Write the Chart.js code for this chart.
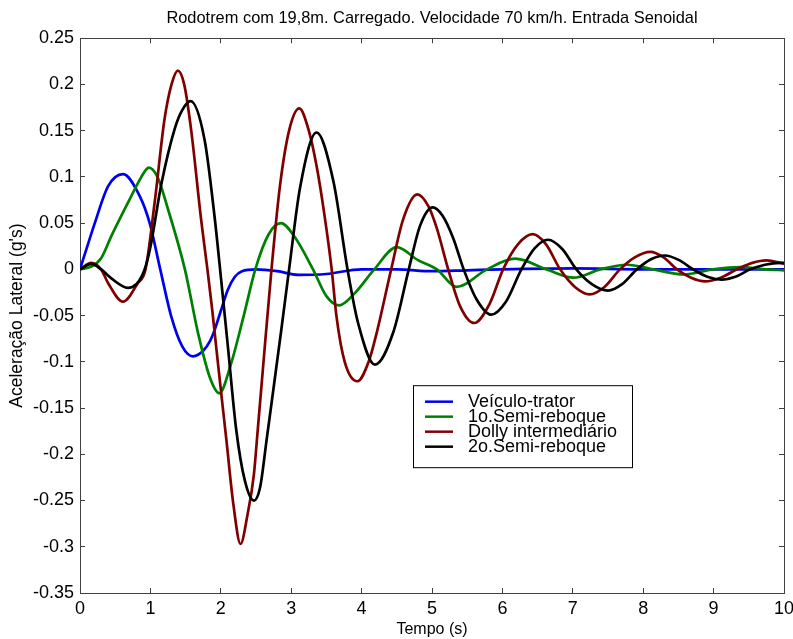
<!DOCTYPE html>
<html>
<head>
<meta charset="utf-8">
<script src="https://cdn.jsdelivr.net/npm/chart.js@4.4.1/dist/chart.umd.min.js"></script>
<style>
  body { margin: 0; background: #fff; }
  canvas { display: block; }
</style>
</head>
<body>
<canvas id="chart" width="793" height="639"></canvas>
<script>
// Tempo (s) / aceleração (g's)
const tratorT = [0, 0.1, 0.21, 0.40, 0.61, 0.85, 0.99, 1.14, 1.30, 1.45, 1.605, 1.75, 1.85, 1.91, 2.00, 2.10, 2.20, 2.30, 2.5, 2.8, 3.1, 3.5, 4.0, 4.5, 5.0, 5.5, 6.0, 7.0, 8.0, 9.0, 10.0];
const tratorA = [0, 0.024, 0.050, 0.090, 0.103, 0.079, 0.050, 0.000, -0.052, -0.083, -0.094, -0.088, -0.077, -0.066, -0.045, -0.022, -0.008, -0.002, 0.000, -0.002, -0.006, -0.005, 0.000, 0.000, -0.002, -0.001, 0.000, 0.001, 0.000, 0.000, 0.000];

const semi1T = [0, 0.16, 0.30, 0.445, 0.68, 0.85, 0.92, 0.976, 1.10, 1.25, 1.49, 1.68, 1.85, 1.98, 2.13, 2.32, 2.49, 2.68, 2.855, 3.05, 3.31, 3.50, 3.68, 3.90, 4.18, 4.50, 4.80, 5.07, 5.35, 5.78, 6.18, 6.63, 7.01, 7.39, 7.77, 8.14, 8.57, 8.99, 9.38, 9.75, 10];
const semi1A = [0, 0.003, 0.012, 0.036, 0.072, 0.097, 0.106, 0.110, 0.100, 0.065, 0, -0.070, -0.118, -0.134, -0.106, -0.052, 0, 0.038, 0.050, 0.035, 0, -0.029, -0.039, -0.026, 0, 0.024, 0.010, 0, -0.019, 0, 0.0115, 0, -0.009, 0, 0.005, 0, -0.0055, 0, 0.0025, 0, -0.001];

const dollyT = [0, 0.16, 0.30, 0.40, 0.61, 0.82, 0.93, 1.06, 1.20, 1.30, 1.39, 1.48, 1.58, 1.72, 1.81, 1.88, 1.95, 2.08, 2.18, 2.28, 2.38, 2.47, 2.52, 2.60, 2.72, 2.84, 2.97, 3.115, 3.25, 3.36, 3.47, 3.575, 3.645, 3.76, 3.94, 4.10, 4.21, 4.42, 4.59, 4.79, 4.95, 5.07, 5.23, 5.40, 5.60, 5.82, 6.01, 6.22, 6.43, 6.62, 6.82, 7.03, 7.24, 7.45, 7.67, 7.88, 8.10, 8.29, 8.48, 8.68, 8.88, 9.10, 9.33, 9.55, 9.75, 10];
const dollyA = [0, 0.007, 0, -0.015, -0.035, -0.015, 0, 0.072, 0.162, 0.200, 0.215, 0.200, 0.150, 0.054, 0, -0.045, -0.095, -0.185, -0.255, -0.297, -0.265, -0.222, -0.178, -0.106, 0, 0.090, 0.150, 0.174, 0.150, 0.112, 0.060, 0, -0.052, -0.100, -0.121, -0.100, -0.070, 0, 0.054, 0.081, 0.068, 0.044, 0, -0.040, -0.058, -0.037, 0, 0.027, 0.038, 0.027, 0, -0.019, -0.027, -0.019, 0, 0.013, 0.019, 0.013, 0, -0.009, -0.013, -0.009, 0, 0.007, 0.0097, 0.006];

const semi2T = [0, 0.16, 0.30, 0.45, 0.68, 0.80, 0.88, 0.94, 1.01, 1.155, 1.345, 1.45, 1.57, 1.77, 1.91, 1.99, 2.10, 2.22, 2.34, 2.47, 2.56, 2.65, 2.75, 2.86, 2.97, 3.125, 3.36, 3.60, 3.80, 3.95, 4.19, 4.45, 4.67, 4.83, 5.01, 5.15, 5.30, 5.45, 5.63, 5.84, 6.05, 6.27, 6.46, 6.65, 6.85, 7.05, 7.27, 7.50, 7.70, 7.91, 8.11, 8.31, 8.51, 8.71, 8.91, 9.11, 9.31, 9.52, 9.73, 9.95, 10];
const semi2A = [0, 0.006, 0, -0.010, -0.020, -0.016, -0.007, 0.005, 0.028, 0.092, 0.152, 0.172, 0.182, 0.140, 0.058, 0, -0.083, -0.174, -0.228, -0.250, -0.235, -0.185, -0.128, -0.065, 0, 0.088, 0.148, 0.095, 0, -0.058, -0.103, -0.068, 0, 0.047, 0.067, 0.058, 0.034, 0, -0.032, -0.049, -0.035, 0, 0.023, 0.032, 0.022, 0, -0.016, -0.023, -0.016, 0, 0.011, 0.015, 0.010, 0, -0.008, -0.011, -0.008, 0, 0.005, 0.007, 0.007];

const seriesNames = ["Veículo-trator", "1o.Semi-reboque", "Dolly intermediário", "2o.Semi-reboque"];
const seriesColors = ["#0000f0", "#008000", "#800000", "#000000"];

const xTicks = [0, 1, 2, 3, 4, 5, 6, 7, 8, 9, 10];
const yTicks = [0.25, 0.2, 0.15, 0.1, 0.05, 0, -0.05, -0.1, -0.15, -0.2, -0.25, -0.3, -0.35];
const yTickLabels = ["0.25", "0.2", "0.15", "0.1", "0.05", "0", "-0.05", "-0.1", "-0.15", "-0.2", "-0.25", "-0.3", "-0.35"];

const FONT = "'Liberation Sans', Arial, Helvetica, sans-serif";
const AXIS_COLOR = "#404040";

function pairs(ts, vs) {
  return ts.map((t, i) => ({ x: t, y: vs[i] }));
}

const allSeries = [
  pairs(tratorT, tratorA),
  pairs(semi1T, semi1A),
  pairs(dollyT, dollyA),
  pairs(semi2T, semi2A),
];

// legenda desenhada dentro da área do gráfico (estilo MATLAB)
const insideLegend = {
  id: "insideLegend",
  afterDraw(chart) {
    const { ctx, chartArea } = chart;
    const bx = chartArea.left + 333;
    const by = chartArea.top + 347;
    const bw = 219;
    const bh = 82;
    ctx.save();
    ctx.fillStyle = "#fff";
    ctx.fillRect(bx, by, bw, bh);
    ctx.strokeStyle = "#000";
    ctx.lineWidth = 1;
    ctx.strokeRect(bx + 0.5, by + 0.5, bw, bh);
    ctx.font = "18px " + FONT;
    ctx.textBaseline = "middle";
    seriesNames.forEach((name, i) => {
      const y = by + 16.5 + i * 15;
      ctx.strokeStyle = seriesColors[i];
      ctx.lineWidth = 2.5;
      ctx.beginPath();
      ctx.moveTo(bx + 12, y);
      ctx.lineTo(bx + 40, y);
      ctx.stroke();
      ctx.fillStyle = "#000";
      ctx.fillText(name, bx + 55, y);
    });
    ctx.restore();
  },
};

const setXTicks = (axis) => { axis.ticks = xTicks.map((v) => ({ value: v })); };
const setYTicks = (axis) => { axis.ticks = yTicks.map((v) => ({ value: v })); };

const ctx = document.getElementById("chart");
new Chart(ctx, {
  type: "line",
  data: {
    datasets: allSeries.map((pts, i) => ({
      label: seriesNames[i],
      data: pts,
      borderColor: seriesColors[i],
      backgroundColor: seriesColors[i],
      borderWidth: 2.7,
      pointRadius: 0,
      cubicInterpolationMode: "monotone",
      fill: false,
      order: 3 - i,
    })),
  },
  options: {
    responsive: false,
    animation: false,
    devicePixelRatio: 1,
    layout: { autoPadding: false, padding: { left: 0, right: 9, top: 0, bottom: 0 } },
    plugins: {
      legend: { display: false },
      tooltip: { enabled: false },
      title: {
        display: true,
        text: "Rodotrem com 19,8m. Carregado. Velocidade 70 km/h. Entrada Senoidal",
        color: "#000",
        fullSize: false,
        font: { family: FONT, size: 16.4, weight: "normal" },
        padding: { top: 9, bottom: 9.5 },
      },
    },
    scales: {
      x: {
        type: "linear",
        position: "bottom",
        min: 0,
        max: 10,
        afterBuildTicks: setXTicks,
        afterFit: (s) => { s.height = 46; s.paddingLeft = 0; s.paddingRight = 0; },
        grid: { drawOnChartArea: false, tickLength: -5, color: AXIS_COLOR },
        border: { color: AXIS_COLOR },
        ticks: { color: "#000", padding: 10, maxRotation: 0, font: { family: FONT, size: 18 } },
        title: { display: true, text: "Tempo (s)", color: "#000", padding: 0, font: { family: FONT, size: 16 } },
      },
      x2: {
        type: "linear",
        position: "top",
        min: 0,
        max: 10,
        afterBuildTicks: setXTicks,
        afterFit: (s) => { s.height = 0; s.paddingLeft = 0; s.paddingRight = 0; },
        grid: { drawOnChartArea: false, tickLength: -5, color: AXIS_COLOR },
        border: { color: AXIS_COLOR },
        ticks: { display: false },
      },
      y: {
        type: "linear",
        position: "left",
        min: -0.35,
        max: 0.25,
        afterBuildTicks: setYTicks,
        afterFit: (s) => { s.width = 80; },
        grid: { drawOnChartArea: false, tickLength: -5, color: AXIS_COLOR },
        border: { color: AXIS_COLOR },
        ticks: {
          color: "#000",
          padding: 11,
          font: { family: FONT, size: 18 },
          callback: (value, index) => yTickLabels[index],
        },
        title: { display: true, text: "Aceleração Lateral (g's)", color: "#000", padding: { top: 7, bottom: 0 }, font: { family: FONT, size: 17.5 } },
      },
      y2: {
        type: "linear",
        position: "right",
        min: -0.35,
        max: 0.25,
        afterBuildTicks: setYTicks,
        afterFit: (s) => { s.width = 0; },
        grid: { drawOnChartArea: false, tickLength: -5, color: AXIS_COLOR },
        border: { color: AXIS_COLOR },
        ticks: { display: false },
      },
    },
  },
  plugins: [insideLegend],
});
</script>
</body>
</html>
